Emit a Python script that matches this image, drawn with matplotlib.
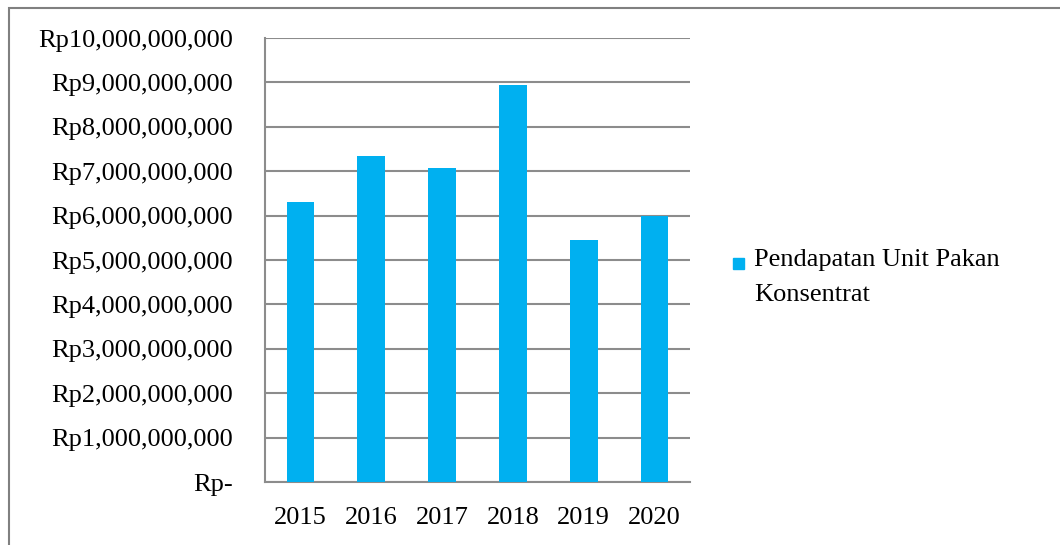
import matplotlib.pyplot as plt
from matplotlib.patches import Rectangle
from matplotlib.ticker import FuncFormatter

# data
years = ['2015', '2016', '2017', '2018', '2019', '2020']
pendapatan = [6.30e9, 7.35e9, 7.07e9, 8.95e9, 5.44e9, 6.00e9]
series_label = 'Pendapatan Unit Pakan\nKonsentrat'

bar_color = '#00B0F0'
grid_color = '#8c8c8c'

plt.rcParams['font.family'] = ['Liberation Serif', 'DejaVu Serif']

fig = plt.figure(figsize=(10.6, 5.45), dpi=100)
ax = fig.add_axes([265 / 1060, 1 - 482 / 545, 425 / 1060, 444 / 545])

pos = range(len(years))
ax.bar(pos, pendapatan, width=0.39, color=bar_color, zorder=3)

ax.set_xlim(-0.5, len(years) - 0.5)
ax.set_ylim(0, 10e9)
ax.set_yticks([i * 1e9 for i in range(11)])


def rupiah(v, _):
    if v == 0:
        return 'Rp-'
    return 'Rp{:,.0f}'.format(v)


ax.yaxis.set_major_formatter(FuncFormatter(rupiah))
ax.set_xticks(list(pos))
ax.set_xticklabels(years)
ax.tick_params(axis='both', length=0, labelsize=19, colors='black')
ax.tick_params(axis='y', pad=23)
ax.tick_params(axis='x', pad=18)

ax.grid(axis='y', color=grid_color, linewidth=1.5, zorder=0)
for s in ['top', 'right']:
    ax.spines[s].set_visible(False)
for s in ['left', 'bottom']:
    ax.spines[s].set_color(grid_color)
    ax.spines[s].set_linewidth(1.5)

# legend drawn by hand so the marker sits on the first line
fig.add_artist(Rectangle((733 / 1060, 1 - 269 / 545), 11 / 1060, 11 / 545,
                         transform=fig.transFigure, color=bar_color))
fig.text(754 / 1060, 1 - 249 / 545, series_label, fontsize=19,
         va='top', ha='left', linespacing=1.75)

# outer frame of the picture
fig.add_artist(Rectangle((9 / 1060, -0.1), 1.2, 1 - 8 / 545 + 0.1,
                         transform=fig.transFigure, fill=False,
                         edgecolor='#808080', linewidth=1.5))

fig.savefig('out.png', dpi=100)
